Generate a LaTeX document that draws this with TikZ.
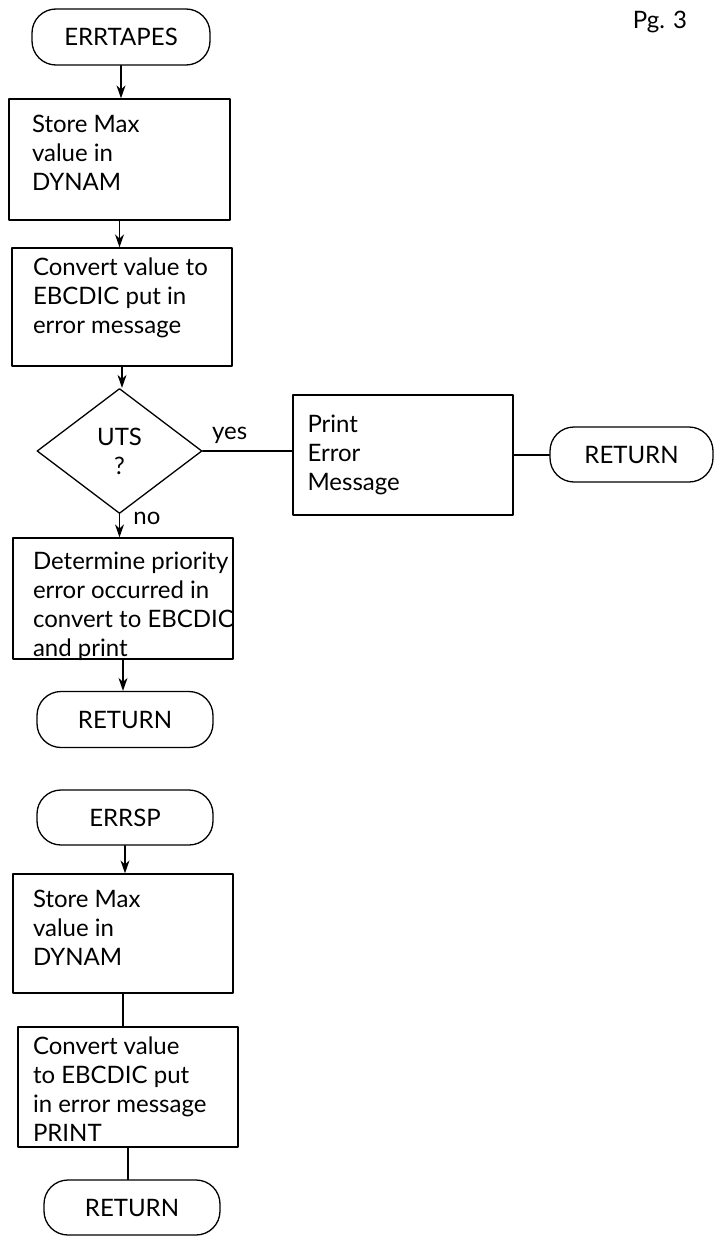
\documentclass[tikz,border=0pt]{standalone}
\usepackage{fontspec}
\setmainfont{Lato}
\usetikzlibrary{shapes.geometric, arrows.meta}

\begin{document}
\begin{tikzpicture}[
	x=1pt, y=-1pt,
	line cap=round,
	line join=round,
	>={Stealth[length=13pt, width=9pt]},
	line width=1.3pt,
	every node/.style={font=\fontsize{24}{29}\selectfont},
	term/.style={draw, rounded corners=24pt, minimum width=176pt, minimum height=56pt},
	box/.style={draw, minimum width=220pt, minimum height=120pt},
	boxtext/.style={anchor=north west, align=left, inner sep=0pt},
	]
	\useasboundingbox (0,0) rectangle (715,1236);
	
	% Seitenzahl
	\node (pg) at (660,22) {Pg. 3};
	
	% Erster Ablauf: ERRTAPES
	\node[term, minimum width=178pt] (t1) at (121,37) {ERRTAPES};
	
	\node[box, minimum width=221pt, minimum height=121pt] (b1) at (119.5,159.5) {};
	\node[boxtext] (b1t) at ([shift={(23,16)}]b1.north west)
	{Store Max\\value in\\DYNAM};
	
	\node[box, minimum height=118pt] (b2) at (122,307) {};
	\node[boxtext] (b2t) at ([shift={(21,10)}]b2.north west)
	{Convert value to\\EBCDIC put in\\error message};
	
	\node[draw, diamond, minimum width=165pt, minimum height=125pt,
	inner sep=0pt, align=center] (d1) at (119.5,451) {UTS\\?};
	
	\node[box, inner xsep=0pt, text width=191pt, align=left] (p1) at (403,455)
	{Print\\Error\\Message};
	
	\node[term, minimum width=163pt, minimum height=55pt] (r1) at (631.5,454.5) {RETURN};
	
	\node[box, minimum height=121pt] (b3) at (123,598.5) {};
	\node[boxtext] (b3t) at ([shift={(20,14)}]b3.north west)
	{Determine priority\\error occurred in\\convert to EBCDIC\\and print};
	
	\node[term] (r2) at (125,719.5) {RETURN};
	
	% Zweiter Ablauf: ERRSP
	\node[term, minimum height=55pt] (t2) at (125,817.5) {ERRSP};
	
	\node[box, minimum height=119pt] (b4) at (123,933.5) {};
	\node[boxtext] (b4t) at ([shift={(20,16)}]b4.north west)
	{Store Max\\value in\\DYNAM};
	
	\node[box] (b5) at (128,1087) {};
	\node[boxtext] (b5t) at ([shift={(15,10)}]b5.north west)
	{Convert value\\to EBCDIC put\\in error message\\PRINT};
	
	\node[term, minimum height=55pt] (r3) at (132,1207.5) {RETURN};
	
	% Verbindungen
	\draw[->] (t1.south) -- (t1.south |- b1.north);
	\draw[->] (b1.south) -- (b1.south |- b2.north);
	\draw[->] (b2.south) -- (b2.south |- d1.north);
	\draw (d1.east) -- (d1.east -| p1.west)
	node[pos=0.3, above=3pt] (yes) {yes};
	\draw (p1.east) -- (p1.east -| r1.west);
	\draw[->] (d1.south) -- (d1.south |- b3.north)
	node[pos=0.2, right=10pt] (no) {no};
	\draw[->] (b3.south) -- (b3.south |- r2.north);
	
	\draw[->] (t2.south) -- (t2.south |- b4.north);
	\draw (b4.south) -- (b4.south |- b5.north);
	\draw (b5.south) -- (b5.south |- r3.north);
	
\end{tikzpicture}
\end{document}
